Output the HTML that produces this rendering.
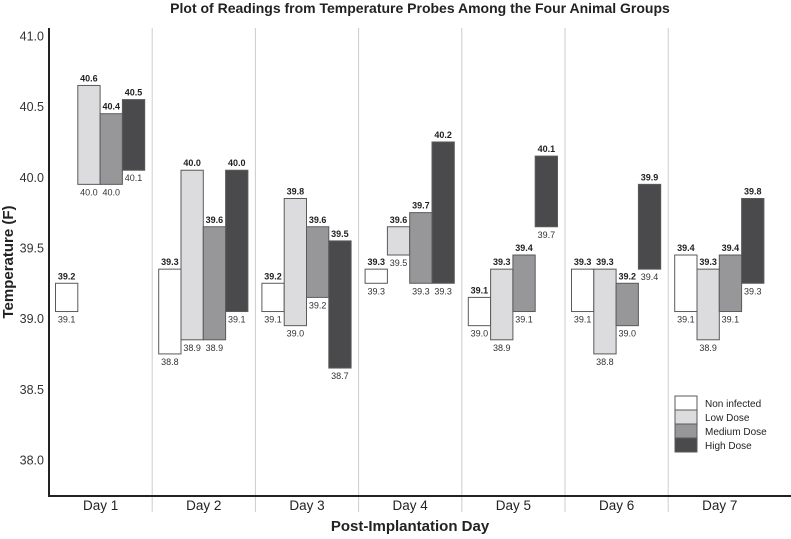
<!DOCTYPE html>
<html><head><meta charset="utf-8"><style>
body{margin:0;background:#fff;}
svg text{font-family:"Liberation Sans",Arial,sans-serif;}
</style></head><body>
<svg id="chart" width="791" height="534" xmlns="http://www.w3.org/2000/svg">
<text x="420" y="13" text-anchor="middle" font-size="14" font-weight="bold" fill="#222">Plot of Readings from Temperature Probes Among the Four Animal Groups</text>
<text transform="translate(13,262) rotate(-90)" text-anchor="middle" font-size="15" font-weight="bold" fill="#222">Temperature (F)</text>
<text x="410" y="531" text-anchor="middle" font-size="15" font-weight="bold" fill="#222">Post-Implantation Day</text>
<g id="grid"></g><g id="bars"></g><g id="axes"></g>
<g id="legend"></g>
</svg>
<script>
const days=["Day 1","Day 2","Day 3","Day 4","Day 5","Day 6","Day 7"];
const groups=["Non infected","Low Dose","Medium Dose","High Dose"];
const colors=["#ffffff","#dcdcde","#97979a","#4a4a4c"];
const yTicks=[38.0,38.5,39.0,39.5,40.0,40.5,41.0];
const lowNI=[39.1,38.8,39.1,39.3,39.0,39.1,39.1];
const highNI=[39.2,39.3,39.2,39.3,39.1,39.3,39.4];
const lowLD=[40.0,38.9,39.0,39.5,38.9,38.8,38.9];
const highLD=[40.6,40.0,39.8,39.6,39.3,39.3,39.3];
const lowMD=[40.0,38.9,39.2,39.3,39.1,39.0,39.1];
const highMD=[40.4,39.6,39.6,39.7,39.4,39.2,39.4];
const lowHD=[40.1,39.1,38.7,39.3,39.7,39.4,39.3];
const highHD=[40.5,40.0,39.5,40.2,40.1,39.9,39.8];
const lows=[lowNI,lowLD,lowMD,lowHD], highs=[highNI,highLD,highMD,highHD];
const NS="http://www.w3.org/2000/svg";
const X0=49,CW=103.2,BW=22.3,OFF=6.5,AXY=496;
const y=v=>36+(41-v)*141.3;
const xc=i=>X0+i*CW;
function mk(t,a,p){const e=document.createElementNS(NS,t);for(const k in a)e.setAttribute(k,a[k]);p.appendChild(e);return e;}
const grid=document.getElementById('grid'),bars=document.getElementById('bars'),axes=document.getElementById('axes'),leg=document.getElementById('legend');
for(let i=1;i<7;i++){const l=mk('line',{x1:xc(i),x2:xc(i),y1:28,y2:512,stroke:'#ccc','stroke-width':1},grid);

}
yTicks.forEach(v=>{const t=mk('text',{x:44,y:y(v)+4.5,'text-anchor':'end','font-size':12.5,fill:'#333'},axes);t.textContent=v.toFixed(1);

});
days.forEach((d,i)=>{const t=mk('text',{x:xc(i)+CW/2,y:510,'text-anchor':'middle','font-size':13.5,fill:'#222'},axes);t.textContent=d;


groups.forEach((g,j)=>{const lo=lows[j][i],hi=highs[j][i];const bx=xc(i)+OFF+j*BW;
const r=mk('rect',{x:bx,y:y(hi+0.05),width:BW,height:y(lo-0.05)-y(hi+0.05),fill:colors[j],stroke:'#5a5a5a','stroke-width':1},bars);


const th=mk('text',{x:bx+BW/2,y:y(hi+0.05)-4,'text-anchor':'middle','font-size':9,'font-weight':'bold',fill:'#222'},bars);th.textContent=hi.toFixed(1);


const tl=mk('text',{x:bx+BW/2,y:y(lo-0.05)+11,'text-anchor':'middle','font-size':9,fill:'#333'},bars);tl.textContent=lo.toFixed(1);

});});
const ya=mk('line',{x1:X0,x2:X0,y1:28,y2:AXY,stroke:'#222','stroke-width':2},axes);


const xa=mk('line',{x1:X0-1,x2:791,y1:AXY,y2:AXY,stroke:'#222','stroke-width':2},axes);


groups.forEach((g,j)=>{const r=mk('rect',{x:675,y:396+j*14,width:22,height:14,fill:colors[j],stroke:'#5a5a5a','stroke-width':1},leg);


const t=mk('text',{x:705,y:407+j*14,'font-size':10,fill:'#222'},leg);t.textContent=g;

});
</script>
</body></html>
